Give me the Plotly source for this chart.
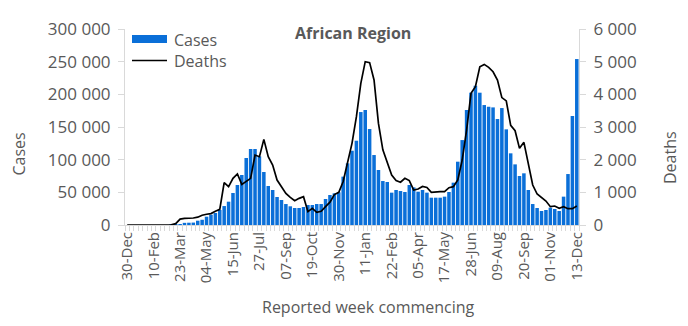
import pandas as pd
import plotly.graph_objects as go

# Weekly reported COVID-19 figures, African Region (week commencing 30-Dec-2019 .. 13-Dec-2021)
weeks = pd.date_range("2019-12-30", periods=103, freq="7D")

cases = [
    0, 0, 0, 0, 0, 0, 0, 0, 0, 0,
    50, 400, 1200, 3300, 3500, 3700, 6600, 8000, 12700, 15800,
    18400, 23000, 29000, 35700, 49000, 61200, 76500, 102600, 116300, 116300,
    105100, 81100, 59700, 53600, 42900, 38300, 32100, 28600, 26000, 26000,
    27600, 30600, 30600, 32100, 32100, 39800, 45900, 48500, 50000, 74000,
    94400, 113700, 129000, 172900, 176000, 146900, 107100, 84200, 67300, 65800,
    49500, 53600, 52000, 50500, 61200, 57600, 51000, 53600, 49500, 41800,
    41800, 41800, 43400, 50500, 64800, 96900, 130000, 176000, 202500, 213200,
    202500, 183600, 181000, 180000, 162200, 179000, 146400, 109700, 92800, 75000,
    79100, 53600, 32100, 26000, 21400, 23000, 26500, 24500, 21400, 43400,
    78000, 166800, 254000,
]

deaths = [
    0, 0, 0, 0, 0, 0, 0, 0, 0, 0,
    5, 40, 180, 204, 204, 215, 240, 300, 330, 350,
    420, 480, 1295, 1173, 1428, 1561, 1244, 1346, 1428, 2142,
    2091, 2621, 2091, 1836, 1377, 1173, 969, 847, 745, 816,
    867, 408, 510, 388, 420, 560, 700, 930, 1000, 1330,
    1890, 2500, 3315, 4335, 5000, 4970, 4440, 3110, 2300, 1890,
    1530, 1360, 1310, 1430, 1360, 1070, 1100, 1180, 1150, 1000,
    1020, 1020, 1020, 1142, 1173, 1377, 1989, 2907, 4029, 4233,
    4845, 4916, 4824, 4692, 4437, 3900, 3800, 3050, 2887, 2346,
    2530, 1887, 1224, 949, 836, 734, 561, 581, 510, 561,
    500, 500, 581,
]

tick_labels = ["30-Dec", "10-Feb", "23-Mar", "04-May", "15-Jun", "27-Jul",
               "07-Sep", "19-Oct", "30-Nov", "11-Jan", "22-Feb", "05-Apr",
               "17-May", "28-Jun", "09-Aug", "20-Sep", "01-Nov", "13-Dec"]
tick_weeks = weeks[::6]

BAR_BLUE = "#0A6FD8"
TEXT = "#595959"
AXIS = "#D9D9D9"
FONT = "Open Sans"
DAY_MS = 86400000
half_week = pd.Timedelta(days=3.5)

fig = go.Figure()
fig.add_trace(go.Bar(x=weeks, y=cases, name="Cases", marker_color=BAR_BLUE,
                     marker_line_width=0, width=0.8 * 7 * DAY_MS, yaxis="y"))
fig.add_trace(go.Scatter(x=weeks, y=deaths, name="Deaths", mode="lines",
                         line=dict(color="black", width=1.7), yaxis="y2"))

# plot-area geometry in pixels
L, R, T, B = 125, 579, 29, 225
W, H = R - L, B - T
px = lambda x: (x - L) / W
py = lambda y: (B - y) / H

fig.update_layout(
    width=688, height=326,
    margin=dict(l=L, r=688 - R, t=T, b=326 - B, pad=0),
    paper_bgcolor="white", plot_bgcolor="white",
    separators=". ",
    showlegend=False,
    font=dict(family=FONT, size=16, color=TEXT),
    xaxis=dict(
        type="date",
        range=[weeks[0] - half_week, weeks[-1] + half_week],
        tickmode="array", tickvals=tick_weeks, ticktext=tick_labels,
        tickangle=-90, ticks="", tickfont=dict(size=15, color=TEXT),
        showline=True, linecolor=AXIS, linewidth=1, showgrid=False, zeroline=False,
        minor=dict(ticks="outside", ticklen=5, tickcolor=AXIS,
                   tick0=weeks[0] - half_week, dtick=7 * DAY_MS, showgrid=False),
    ),
    yaxis=dict(
        range=[0, 300000], dtick=50000, tickformat=",d",
        ticks="outside", ticklen=6, tickcolor=AXIS, ticklabelstandoff=4,
        showline=True, linecolor=AXIS, showgrid=False, zeroline=False,
        tickfont=dict(size=17, color=TEXT),
    ),
    yaxis2=dict(
        range=[0, 6000], dtick=1000, tickformat=",d", overlaying="y", side="right",
        ticks="outside", ticklen=6, tickcolor=AXIS, ticklabelstandoff=4,
        showline=True, linecolor=AXIS, showgrid=False, zeroline=False,
        tickfont=dict(size=17, color=TEXT),
    ),
    bargap=0.2,
)

# legend drawn inside the plot area
fig.add_shape(type="rect", xref="paper", yref="paper",
              x0=px(132), x1=px(167), y0=py(43), y1=py(35),
              fillcolor=BAR_BLUE, line_width=0)
fig.add_shape(type="line", xref="paper", yref="paper",
              x0=px(132), x1=px(167), y0=py(60.5), y1=py(60.5),
              line=dict(color="black", width=1.7))

annotations = [
    dict(text="Cases", x=px(172), y=py(39.5), xanchor="left", yanchor="middle"),
    dict(text="Deaths", x=px(172), y=py(60.5), xanchor="left", yanchor="middle"),
    dict(text="<b>African Region</b>", x=px(353), y=py(33), xanchor="center", yanchor="middle"),
    dict(text="Cases", x=px(18.5), y=py(154), textangle=-90, xanchor="center", yanchor="middle"),
    dict(text="Deaths", x=px(670), y=py(158), textangle=-90, xanchor="center", yanchor="middle"),
    dict(text="Reported week commencing", x=px(368.8), y=py(307), xanchor="center", yanchor="middle"),
]
for a in annotations:
    fig.add_annotation(xref="paper", yref="paper", showarrow=False,
                       font=dict(family=FONT, size=16, color=TEXT), **a)

fig.write_html("out.html")
